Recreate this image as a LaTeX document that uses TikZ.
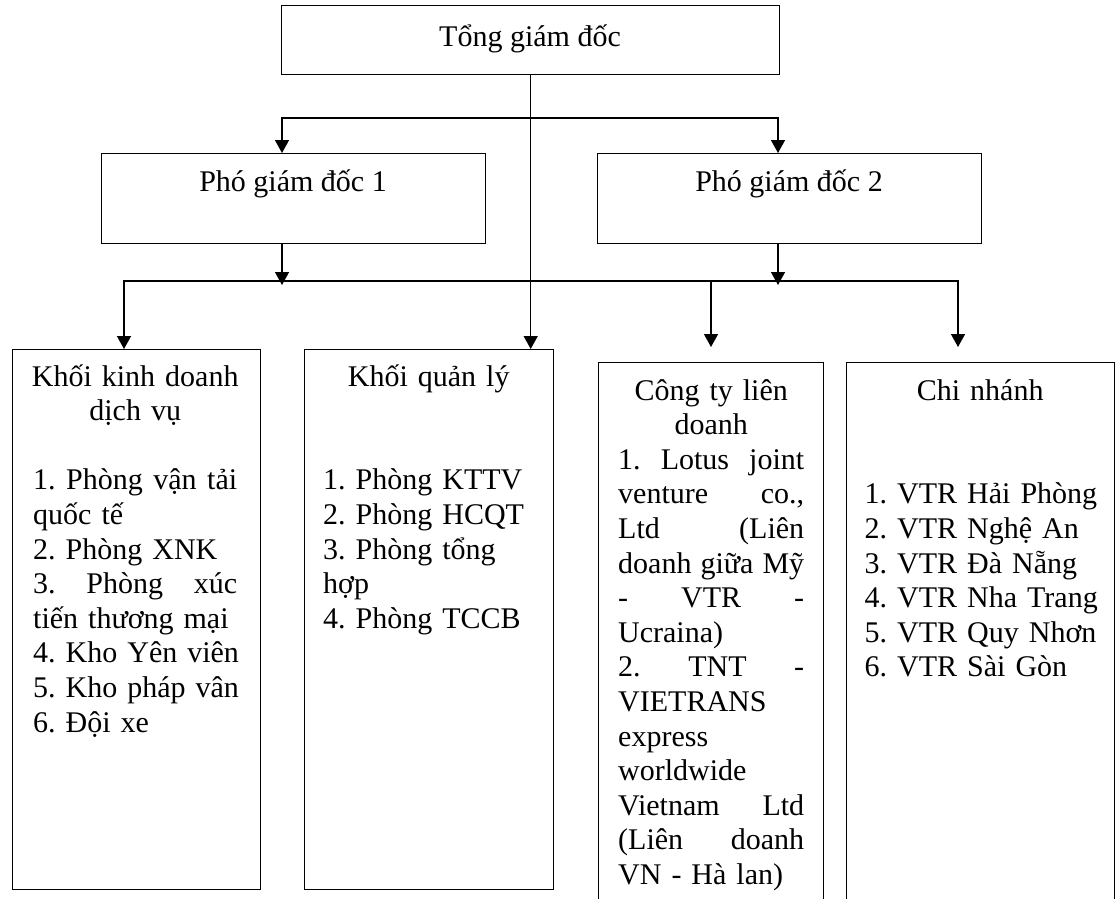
\documentclass[tikz,border=0pt]{standalone}
\usepackage{fontspec}
\setmainfont{Liberation Serif}
\usetikzlibrary{arrows.meta}
\newcommand{\jl}[1]{\leavevmode\hbox to\linewidth{#1}}
\newcommand{\cl}[1]{\makebox[\linewidth][c]{#1}}
\newcommand{\lft}[1]{\makebox[\linewidth][l]{#1}}
\begin{document}
\begin{tikzpicture}[x=1pt,y=-1pt,
  box/.style={draw, line width=1.4pt, inner sep=0pt, anchor=north west},
  lbl/.style={font=\fontsize{30pt}{34.6pt}\selectfont\frenchspacing, inner sep=0pt},
  txt/.style={lbl, align=left, anchor=base west},
  ln/.style={line width=1.4pt},
  arr/.style={line width=1.4pt, -{Triangle[width=14pt,length=13pt]}}]
\useasboundingbox (0,0) rectangle (1116,898);
\clip (0,0) rectangle (1116,898);
% boxes
\node[box, minimum width=498pt, minimum height=69pt] (tong) at (281,5) {};
\node[lbl, anchor=base] (tongt) at (530,46) {Tổng giám đốc};
\node[box, minimum width=384pt, minimum height=90pt] (pg1) at (101,153) {};
\node[lbl, anchor=base] (pg1t) at (293,191) {Phó giám đốc 1};
\node[box, minimum width=384pt, minimum height=90pt] (pg2) at (597,153) {};
\node[lbl, anchor=base] (pg2t) at (789,191) {Phó giám đốc 2};
\node[box, minimum width=248pt, minimum height=540pt] (b1) at (12,349) {};
\node[box, minimum width=249pt, minimum height=540pt] (b2) at (304,349) {};
\node[box, minimum width=225pt, minimum height=570pt] (b3) at (598,362) {};
\node[box, minimum width=268pt, minimum height=570pt] (b4) at (846,362) {};
% texts
\node[txt, text width=204pt] (t1) at (33,386) {\cl{Khối kinh doanh}\\ \cl{dịch vụ}\\ \mbox{}\\ \jl{1.\hfill Phòng\hfill vận\hfill tải}\\ \lft{quốc tế}\\ \lft{2. Phòng XNK}\\ \jl{3.\hfill Phòng\hfill xúc}\\ \lft{tiến thương mại}\\ \lft{4. Kho Yên viên}\\ \lft{5. Kho pháp vân}\\ \lft{6. Đội xe}};
\node[txt, text width=211pt] (t2) at (323,386) {\cl{Khối quản lý}\\ \mbox{}\\ \mbox{}\\ \lft{1. Phòng KTTV}\\ \lft{2. Phòng HCQT}\\ \lft{3. Phòng tổng}\\ \lft{hợp}\\ \lft{4. Phòng TCCB}};
\node[txt, text width=186pt] (t3) at (618,400) {\cl{Công ty liên}\\ \cl{doanh}\\ \jl{1.\hfill Lotus\hfill joint}\\ \jl{venture\hfill co.,}\\ \jl{Ltd\hfill (Liên}\\ \jl{doanh\hfill giữa\hfill Mỹ}\\ \jl{-\hfill VTR\hfill -}\\ \lft{Ucraina)}\\ \jl{2.\hfill TNT\hfill -}\\ \lft{VIETRANS}\\ \lft{express}\\ \lft{worldwide}\\ \jl{Vietnam\hfill Ltd}\\ \jl{(Liên\hfill doanh}\\ \lft{VN - Hà lan)}};
\node[txt, text width=231pt] (t4) at (864.5,400) {\cl{Chi nhánh}\\ \mbox{}\\ \mbox{}\\ \lft{1. VTR Hải Phòng}\\ \lft{2. VTR Nghệ An}\\ \lft{3. VTR Đà Nẵng}\\ \lft{4. VTR Nha Trang}\\ \lft{5. VTR Quy Nhơn}\\ \lft{6. VTR Sài Gòn}};
% connector points
\coordinate (h1L) at (282,118);
\coordinate (h1R) at (778,118);
\coordinate (h2L) at (124,281);
\coordinate (h2R) at (958,281);
\coordinate (h2M) at (711,281);
\coordinate (e3) at (711,347);
\coordinate (e4) at (958,347);
\coordinate (p1) at (282,285);
\coordinate (p2) at (778,285);
% connectors
\draw[arr] (tong.south) -- (tong.south |- b2.north);
\draw[arr] (h1R) -- (h1L) -- (h1L |- pg1.north);
\draw[arr] (h1L) -- (h1R) -- (h1R |- pg2.north);
\draw[arr] (h1L |- pg1.south) -- (p1);
\draw[arr] (h1R |- pg2.south) -- (p2);
\draw[arr] (h2R) -- (h2L) -- (h2L |- b1.north);
\draw[arr] (h2L) -- (h2R) -- (e4);
\draw[arr] (h2M) -- (e3);
\end{tikzpicture}
\end{document}
